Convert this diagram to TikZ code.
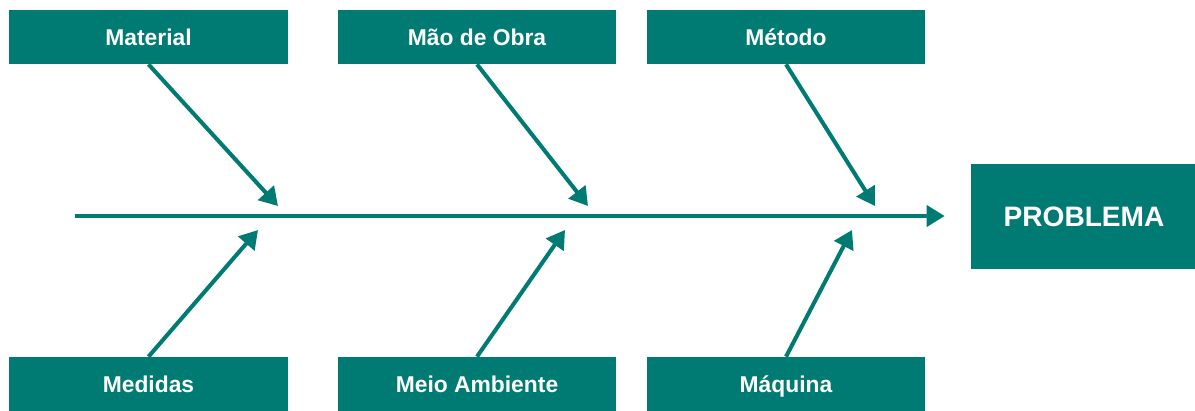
\documentclass[tikz,border=0pt]{standalone}
\usepackage{fontspec}
\setmainfont{Liberation Sans}
\usetikzlibrary{arrows.meta}
\definecolor{fishteal}{RGB}{0,123,115}
\tikzset{
	cause/.style={fill=fishteal,text=white,inner sep=0pt,
		font=\bfseries\fontsize{13}{15}\selectfont,
		text height=3.3mm,text depth=0mm,
		minimum width=5.58cm,minimum height=1.08cm},
	bone/.style={fishteal,line width=2.3pt,
		-{Triangle[length=0.36cm,width=0.42cm]}},
}
\begin{document}
\begin{tikzpicture}[x=0.02cm,y=-0.02cm]
		\useasboundingbox (0,0) rectangle (1195,410); % Keeps the margins...
		\coordinate (Tail) at (75,216);
		\node[cause,minimum width=4.52cm,minimum height=2.1cm,text height=4.05mm,
			font=\bfseries\fontsize{16}{19}\selectfont] (Problema) at (1084,216) {PROBLEMA};
		\draw[bone,shorten >=0.52cm] (Tail) -- (Problema.west);
		\foreach \name/\x/\tipx/\label in {Material/148.5/278/Material,% Causes above
			Obra/477/588/{Mão de Obra},Metodo/786/875/Método}{% the spine
				\node[cause] (\name) at (\x,37) {\label};
				\coordinate (\name Tip) at (\tipx,206);
				\draw[bone] (\name.south) -- (\name Tip);
		}
		\foreach \name/\x/\tipx/\label in {Medidas/148.5/258/Medidas,% Causes below
			Meio/477/565/{Meio Ambiente},Maquina/786/852/Máquina}{% the spine
				\node[cause] (\name) at (\x,384) {\label};
				\coordinate (\name Tip) at (\tipx,230);
				\draw[bone] (\name.north) -- (\name Tip);
		}
	\end{tikzpicture}
\end{document}
